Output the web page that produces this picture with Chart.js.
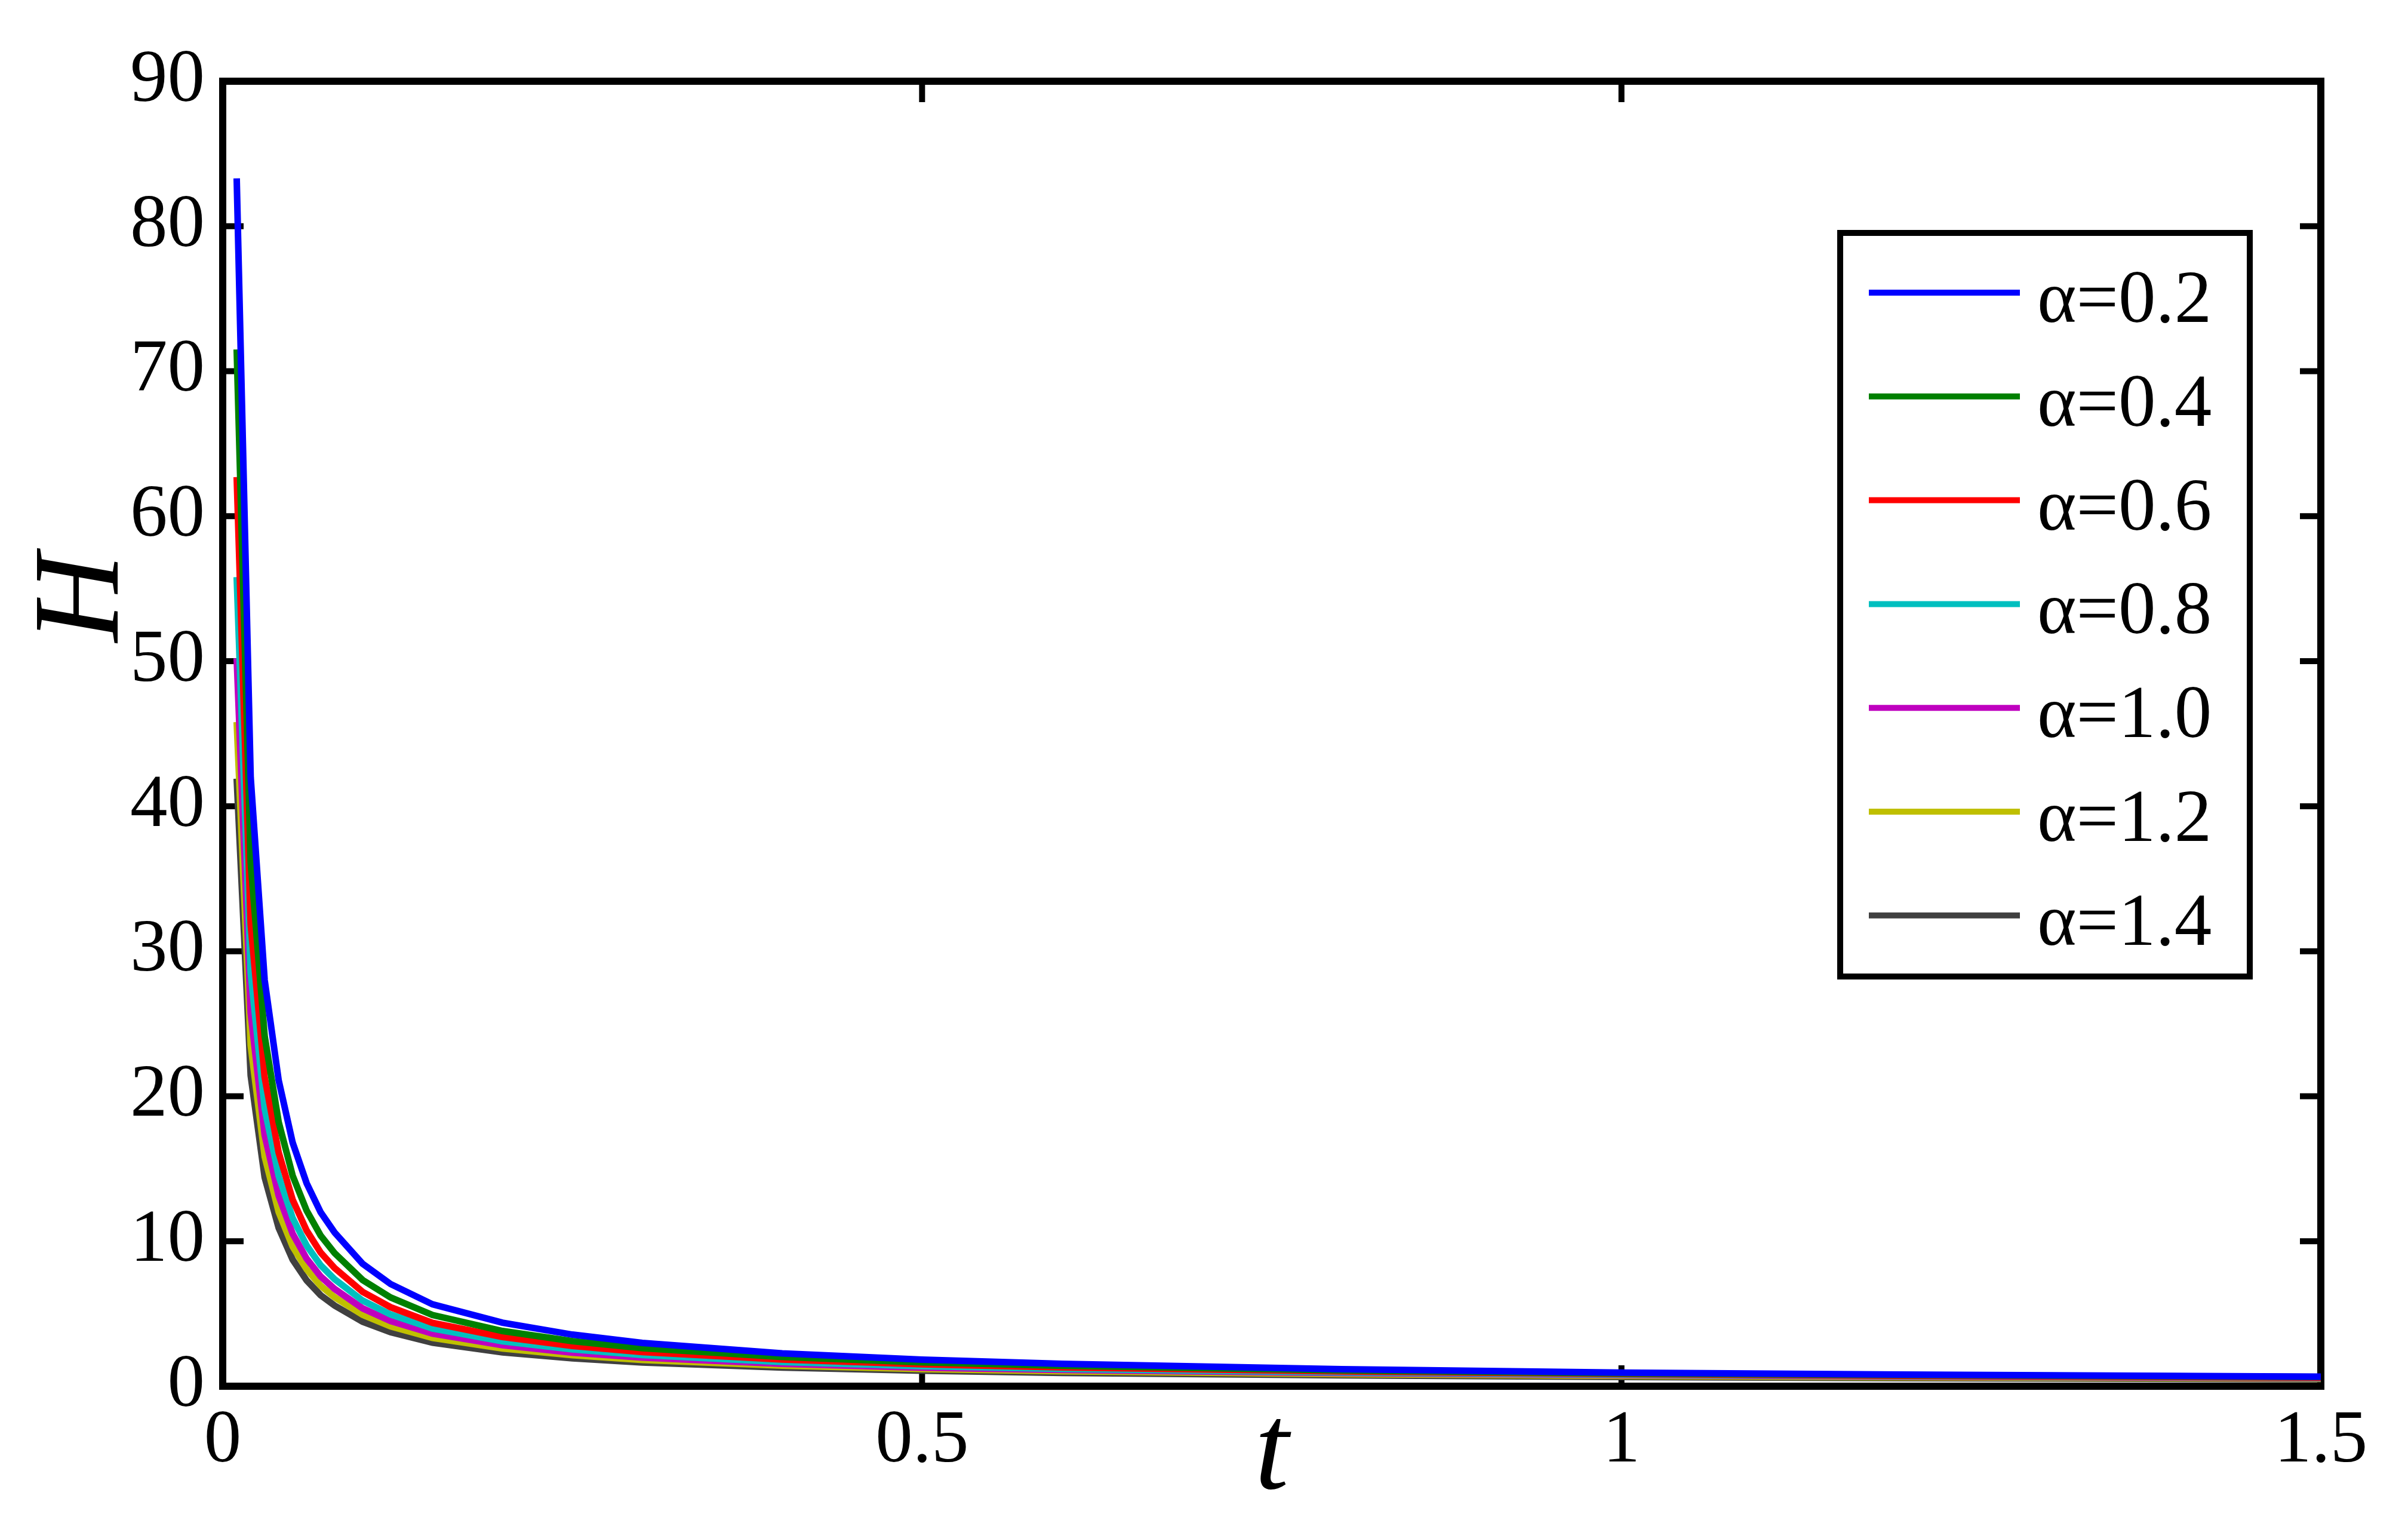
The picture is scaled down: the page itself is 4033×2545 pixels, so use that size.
<!DOCTYPE html>
<html>
<head>
<meta charset="utf-8">
<script src="https://cdn.jsdelivr.net/npm/chart.js@4.4.1/dist/chart.umd.min.js"></script>
<style>
  html, body { margin: 0; padding: 0; background: #fff; }
  canvas { display: block; }
  .preload { position: absolute; left: -9999px; font-family: 'Liberation Serif'; }
</style>
</head>
<body>
<span class="preload">0123456789 α= <i>Ht</i></span>
<canvas id="chart" width="4033" height="2545"></canvas>
<script>
// Values (H against t, one series per alpha)
const tValues = [0.01, 0.02, 0.03, 0.04, 0.05, 0.06, 0.07, 0.08, 0.1, 0.12, 0.15, 0.2, 0.25, 0.3, 0.4, 0.5, 0.6, 0.8, 1.0, 1.2, 1.5];

const hAlpha02 = [83.3, 42.0, 28.0, 21.1, 16.8, 14.0, 12.0, 10.6, 8.45, 7.05, 5.65, 4.38, 3.56, 2.99, 2.27, 1.83, 1.54, 1.17, 0.94, 0.80, 0.66];
const hAlpha04 = [71.5, 36.15, 24.14, 18.22, 14.52, 12.11, 10.39, 9.18, 7.33, 6.12, 4.91, 3.81, 3.11, 2.63, 2.02, 1.65, 1.41, 1.09, 0.89, 0.77, 0.64];
const hAlpha06 = [62.7, 31.85, 21.32, 16.12, 12.86, 10.74, 9.22, 8.15, 6.51, 5.45, 4.37, 3.40, 2.78, 2.36, 1.84, 1.51, 1.30, 1.02, 0.84, 0.72, 0.60];
const hAlpha08 = [55.8, 28.51, 19.15, 14.51, 11.60, 9.70, 8.34, 7.38, 5.91, 4.95, 3.98, 3.10, 2.54, 2.15, 1.67, 1.38, 1.19, 0.96, 0.80, 0.70, 0.58];
const hAlpha10 = [50.2, 25.74, 17.32, 13.14, 10.52, 8.80, 7.57, 6.71, 5.37, 4.50, 3.63, 2.83, 2.32, 1.98, 1.54, 1.28, 1.12, 0.91, 0.77, 0.67, 0.56];
const hAlpha12 = [45.8, 23.52, 15.84, 12.02, 9.63, 8.06, 6.93, 6.14, 4.93, 4.13, 3.33, 2.60, 2.14, 1.81, 1.42, 1.18, 1.03, 0.83, 0.71, 0.62, 0.53];
const hAlpha14 = [41.9, 21.43, 14.40, 10.92, 8.73, 7.30, 6.28, 5.56, 4.45, 3.73, 3.00, 2.34, 1.92, 1.64, 1.29, 1.07, 0.92, 0.75, 0.64, 0.56, 0.48];

const seriesLabels = ['α=0.2', 'α=0.4', 'α=0.6', 'α=0.8', 'α=1.0', 'α=1.2', 'α=1.4'];
const seriesValues = [hAlpha02, hAlpha04, hAlpha06, hAlpha08, hAlpha10, hAlpha12, hAlpha14];

const xTicks = [0, 0.5, 1, 1.5];
const yTicks = [0, 10, 20, 30, 40, 50, 60, 70, 80, 90];

const lineColors = ['#0000ff', '#008000', '#ff0000', '#00bfbf', '#bf00bf', '#bfbf00', '#404040'];
const serif = "'Liberation Serif', 'Times New Roman', Tinos, serif";

function toPoints(values) {
    return tValues.map((t, i) => ({ x: t, y: values[i] }));
}

// Box and inward tick marks on all four sides, drawn under the curves
const frameTicks = {
    id: 'frameTicks',
    beforeDatasetsDraw(chart) {
        const { ctx, chartArea: a, scales } = chart;
        const len = 35;
        ctx.save();
        ctx.strokeStyle = '#000';
        ctx.lineWidth = 10;
        ctx.beginPath();
        scales.x.ticks.forEach(tk => {
            const px = scales.x.getPixelForValue(tk.value);
            ctx.moveTo(px, a.bottom); ctx.lineTo(px, a.bottom - len);
            ctx.moveTo(px, a.top); ctx.lineTo(px, a.top + len);
        });
        scales.y.ticks.forEach(tk => {
            const py = scales.y.getPixelForValue(tk.value);
            ctx.moveTo(a.left, py); ctx.lineTo(a.left + len, py);
            ctx.moveTo(a.right, py); ctx.lineTo(a.right - len, py);
        });
        ctx.stroke();
        ctx.lineWidth = 12;
        ctx.strokeRect(a.left, a.top, a.right - a.left, a.bottom - a.top);
        ctx.restore();
    }
};

// Axis titles and the boxed legend
const labelsLegend = {
    id: 'labelsLegend',
    afterDraw(chart) {
        const { ctx, chartArea: a } = chart;
        ctx.save();
        ctx.fillStyle = '#000';
        ctx.font = 'italic 205px ' + serif;
        ctx.textAlign = 'center';
        ctx.textBaseline = 'alphabetic';
        ctx.fillText('t', (a.left + a.right) / 2, a.bottom + 171);

        ctx.translate(a.left - 176, a.top + 865);
        ctx.rotate(-Math.PI / 2);
        ctx.fillText('H', 0, 0);
        ctx.restore();

        // legend
        ctx.save();
        ctx.strokeStyle = '#000';
        ctx.lineWidth = 10;
        ctx.fillStyle = '#fff';
        ctx.fillRect(3082, 390, 686, 1245);
        ctx.strokeRect(3082, 390, 686, 1245);
        ctx.font = '125px ' + serif;
        ctx.textAlign = 'left';
        ctx.textBaseline = 'alphabetic';
        chart.data.datasets.forEach((ds, i) => {
            const y = 490 + i * 173.8;
            ctx.strokeStyle = ds.borderColor;
            ctx.lineWidth = 10;
            ctx.beginPath();
            ctx.moveTo(3130, y);
            ctx.lineTo(3383, y);
            ctx.stroke();
            ctx.fillStyle = '#000';
            ctx.fillText(ds.label, 3412, y + 49);
        });
        ctx.restore();
    }
};

function drawChart() {
    const ctx = document.getElementById('chart').getContext('2d');
    new Chart(ctx, {
        type: 'line',
        data: {
            datasets: seriesValues.map((vals, i) => ({
                label: seriesLabels[i],
                data: toPoints(vals),
                borderColor: lineColors[i],
                backgroundColor: lineColors[i],
                borderWidth: 11,
                pointRadius: 0,
                tension: 0,
                borderCapStyle: 'butt',
                borderJoinStyle: 'miter',
                fill: false
            }))
        },
        options: {
            responsive: false,
            animation: false,
            devicePixelRatio: 1,
            layout: { padding: { left: 0, top: 136, right: 146, bottom: 0 } },
            plugins: {
                legend: { display: false },
                tooltip: { enabled: false }
            },
            scales: {
                x: {
                    type: 'linear',
                    min: 0,
                    max: 1.5,
                    afterBuildTicks: scale => { scale.ticks = xTicks.map(v => ({ value: v })); },
                    afterFit: scale => { scale.height = 224; },
                    grid: { display: false, drawTicks: false },
                    border: { display: false },
                    ticks: {
                        padding: 18,
                        maxRotation: 0,
                        color: '#000',
                        font: { family: serif, size: 125 },
                        callback: v => String(v)
                    }
                },
                y: {
                    type: 'linear',
                    min: 0,
                    max: 90,
                    afterBuildTicks: scale => { scale.ticks = yTicks.map(v => ({ value: v })); },
                    afterFit: scale => { scale.width = 373; },
                    grid: { display: false, drawTicks: false },
                    border: { display: false },
                    ticks: {
                        padding: 30,
                        color: '#000',
                        font: { family: serif, size: 125 },
                        callback: v => String(v)
                    }
                }
            }
        },
        plugins: [frameTicks, labelsLegend]
    });
}

// make sure the serif face is ready before the canvas text is drawn
Promise.all([
    document.fonts.load("125px 'Liberation Serif'"),
    document.fonts.load("italic 205px 'Liberation Serif'")
]).then(drawChart, drawChart);
</script>
</body>
</html>
